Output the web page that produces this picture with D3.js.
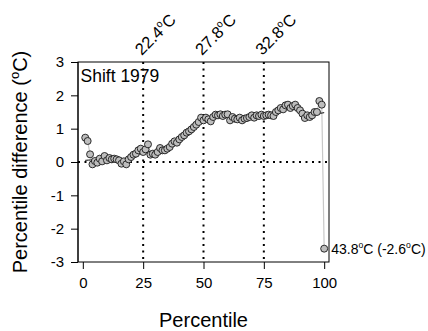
<!DOCTYPE html>
<html><head><meta charset="utf-8">
<script src="https://cdn.jsdelivr.net/npm/d3@7/dist/d3.min.js"></script>
<style>body{margin:0;background:#fff}svg{display:block;font-family:"Liberation Sans",Arial,sans-serif}</style>
</head><body><svg id="c" width="428" height="331"></svg>
<script>
// Percentile differences (°C), percentiles 1..100
const percentiles = d3.range(1, 101);
const diffValues = [
 0.73,0.63,0.23,-0.07,0.03,-0.02,0.10,0.02,0.18,0.05,
 0.12,0.08,0.10,0.08,0.05,-0.05,0.02,-0.07,0.08,0.15,
 0.22,0.25,0.35,0.40,0.30,0.38,0.53,0.22,0.25,0.22,
 0.30,0.42,0.35,0.35,0.40,0.45,0.55,0.62,0.58,0.68,
 0.75,0.80,0.88,0.92,0.98,1.05,1.12,1.20,1.33,1.25,
 1.33,1.28,1.22,1.35,1.42,1.40,1.43,1.38,1.42,1.43,
 1.25,1.35,1.30,1.28,1.33,1.25,1.30,1.32,1.35,1.40,
 1.33,1.40,1.38,1.42,1.38,1.40,1.42,1.40,1.38,1.50,
 1.55,1.62,1.58,1.70,1.72,1.62,1.68,1.72,1.62,1.55,
 1.45,1.32,1.40,1.35,1.40,1.50,1.50,1.83,1.72,-2.6
];
// smoothed trend line
const smoothP = [1,5,10,15,20,25,30,35,40,45,50,55,60,65,70,75,80,85,90,95,100];
const smoothV = [0.05,0.07,0.08,0.06,0.15,0.30,0.30,0.40,0.65,0.98,1.25,1.37,1.35,1.32,1.36,1.40,1.48,1.62,1.55,1.42,1.48];
const xTicks = [0,25,50,75,100];
const yTicks = [-3,-2,-1,0,1,2,3];
const refLines = [25,50,75];
const refLabels = ["22.4","27.8","32.8"];
const panelLabel = "Shift 1979";
const maxLabel = ["43.8","C (-2.6","C)"];

const svg = d3.select("#c");
const L=78,R=329,T=62,B=262;
const x = d3.scaleLinear().domain([-2,102]).range([L,R]);
const y = d3.scaleLinear().domain([-3,3]).range([B,T]);

// dotted reference lines
svg.append("g").selectAll("line").data(refLines).join("line")
  .attr("x1",d=>x(d)).attr("x2",d=>x(d)).attr("y1",T).attr("y2",B)
  .attr("stroke","#000").attr("stroke-width",2).attr("stroke-dasharray","2,4.5");
svg.append("line").attr("x1",L).attr("x2",R).attr("y1",y(0)).attr("y2",y(0))
  .attr("stroke","#000").attr("stroke-width",2).attr("stroke-dasharray","2,4.5");

// box
svg.append("rect").attr("x",L).attr("y",T).attr("width",R-L).attr("height",B-T)
  .attr("fill","none").attr("stroke","#000").attr("stroke-width",1);

// axes
const xa = svg.append("g").attr("transform",`translate(0,${B})`)
  .call(d3.axisBottom(x).tickValues(xTicks).tickSize(7).tickPadding(8));
const ya = svg.append("g").attr("transform",`translate(${L},0)`)
  .call(d3.axisLeft(y).tickValues(yTicks).tickSize(7).tickPadding(7).tickFormat(d=>String(d)));
[xa,ya].forEach(a=>{a.select(".domain").remove();
  a.selectAll("text").attr("font-size",15).attr("font-family","Liberation Sans, Arial, sans-serif").attr("fill","#000");
  a.selectAll("line").attr("stroke","#000");});
ya.append("line").attr("x1",0).attr("x2",0).attr("y1",T).attr("y2",B).attr("stroke","#000");
xa.selectAll("text").attr("dy","0.71em");

// gray connecting line
const pts = percentiles.map((p,i)=>({p,v:diffValues[i]}));
svg.append("path").datum(pts)
  .attr("d",d3.line().x(d=>x(d.p)).y(d=>y(d.v)))
  .attr("fill","none").attr("stroke","#c8c8c8").attr("stroke-width",1.2);

// smoothed line
svg.append("path").datum(smoothP.map((p,i)=>({p,v:smoothV[i]})))
  .attr("d",d3.line().x(d=>x(d.p)).y(d=>y(d.v)).curve(d3.curveBasis))
  .attr("fill","none").attr("stroke","#000").attr("stroke-width",1);

// points
svg.append("g").selectAll("circle").data(pts).join("circle")
  .attr("cx",d=>x(d.p)).attr("cy",d=>y(d.v)).attr("r",3.5)
  .attr("fill","#bdbdbd").attr("stroke","#1a1a1a").attr("stroke-width",0.9);

function degText(sel, parts, size){
  parts.forEach((s,i)=>{
    if(i>0){ sel.append("tspan").attr("font-size",size*0.62).attr("dy",-size*0.42).text("o");
             sel.append("tspan").attr("font-size",size).attr("dy",size*0.42).text(s);}
    else sel.append("tspan").text(s);
  });
}
// top rotated labels
refLines.forEach((r,i)=>{
  const t = svg.append("text").attr("transform",`translate(${x(r)-1.5},56) rotate(-45)`)
    .attr("font-size",16.5).attr("fill","#000");
  degText(t,[refLabels[i],"C"],16.5);
});

svg.append("text").attr("x",80.5).attr("y",81.5).attr("font-size",17.5).text(panelLabel);

const t2 = svg.append("text").attr("x",x(100)+7).attr("y",y(diffValues[99])+5).attr("font-size",14);
degText(t2,maxLabel,14);

svg.append("text").attr("x",x(50)).attr("y",327).attr("text-anchor","middle").attr("font-size",20).text("Percentile");
const yt = svg.append("text").attr("transform",`translate(27,${(T+B)/2}) rotate(-90)`).attr("text-anchor","middle").attr("font-size",20);
yt.append("tspan").text("Percentile difference (");
yt.append("tspan").attr("font-size",13).attr("dy",-8).text("o");
yt.append("tspan").attr("font-size",20).attr("dy",8).text("C)");
</script></body></html>
